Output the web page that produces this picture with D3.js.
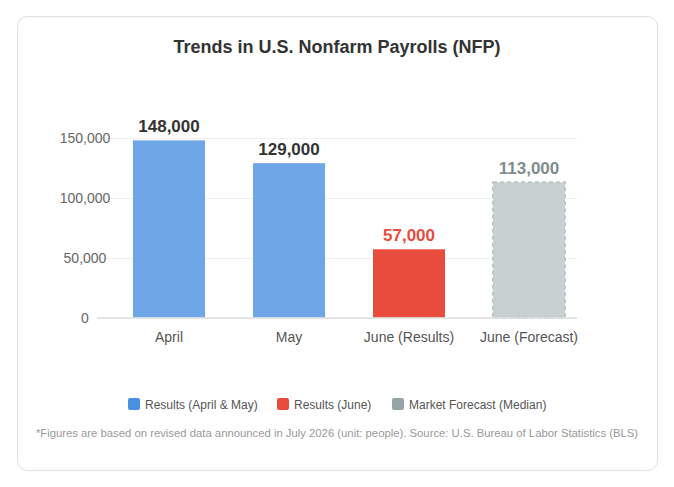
<!DOCTYPE html>
<html>
<head>
<meta charset="utf-8">
<script src="https://cdn.jsdelivr.net/npm/d3@7"></script>
<style>
  body { margin: 0; background: #fff; font-family: "Liberation Sans", Arial, sans-serif; }
</style>
</head>
<body>
<div id="chart"></div>
<script>
const categories = ["April", "May", "June (Results)", "June (Forecast)"];
const values = [148000, 129000, 57000, 113000];
const kinds = ["result", "result", "june", "forecast"];
const yTicks = [0, 50000, 100000, 150000];
const legendLabels = ["Results (April & May)", "Results (June)", "Market Forecast (Median)"];

const w = 674, h = 487;
const fill = { result: "#6ea6e8", june: "#e74c3c", forecast: "#c9d0d2" };
const labelColor = { result: "#333", june: "#e74c3c", forecast: "#7f8c8d" };
const legendColors = ["#4a90e2", "#e74c3c", "#95a5a6"];

const svg = d3.select("#chart").append("svg")
  .attr("width", w).attr("height", h);

svg.append("rect")
  .attr("x", 17.5).attr("y", 16.5)
  .attr("width", 640).attr("height", 454)
  .attr("rx", 10)
  .attr("fill", "#fff")
  .attr("stroke", "#e0e0e0");

svg.append("text")
  .attr("x", 337).attr("y", 53)
  .attr("text-anchor", "middle")
  .attr("font-size", 18).attr("font-weight", "bold")
  .attr("fill", "#333")
  .text("Trends in U.S. Nonfarm Payrolls (NFP)");

const xScale = d3.scaleBand().domain(categories).range([109, 589]).paddingInner(0.4).paddingOuter(0.2);
const yScale = d3.scaleLinear().domain([0, 150000]).range([317.5, 138]);

// grid
svg.append("g").selectAll("line")
  .data(yTicks.slice(1))
  .enter().append("line")
  .attr("x1", 97).attr("x2", 577)
  .attr("y1", d => Math.round(yScale(d)) + 0.5)
  .attr("y2", d => Math.round(yScale(d)) + 0.5)
  .attr("stroke", "#f0f0f0");

svg.append("g").selectAll("text")
  .data(yTicks)
  .enter().append("text")
  .attr("x", 85)
  .attr("y", d => yScale(d) + 5)
  .attr("text-anchor", "middle")
  .attr("font-size", 14).attr("fill", "#666")
  .text(d => d3.format(",")(d));

// bars
const idx = d3.range(categories.length);
svg.append("g").selectAll("rect")
  .data(idx)
  .enter().append("rect")
  .attr("x", i => xScale(categories[i]))
  .attr("y", i => yScale(values[i]))
  .attr("width", xScale.bandwidth())
  .attr("height", i => yScale(0) - yScale(values[i]))
  .attr("fill", i => fill[kinds[i]])
  .attr("stroke", i => kinds[i] === "forecast" ? "#bfc6c9" : "none")
  .attr("stroke-width", 2)
  .attr("stroke-dasharray", "4,3");

svg.append("line")
  .attr("x1", 97).attr("x2", 577)
  .attr("y1", 318).attr("y2", 318)
  .attr("stroke", "#ddd").attr("stroke-width", 1.5);

svg.append("g").selectAll("text")
  .data(idx)
  .enter().append("text")
  .attr("x", i => xScale(categories[i]) + xScale.bandwidth() / 2)
  .attr("y", i => yScale(values[i]) - 8)
  .attr("text-anchor", "middle")
  .attr("font-size", 17).attr("font-weight", "bold")
  .attr("fill", i => labelColor[kinds[i]])
  .text(i => d3.format(",")(values[i]));

// x labels
svg.append("g").selectAll("text")
  .data(categories)
  .enter().append("text")
  .attr("x", d => xScale(d) + xScale.bandwidth() / 2)
  .attr("y", 342)
  .attr("text-anchor", "middle")
  .attr("font-size", 14).attr("fill", "#555")
  .text(d => d);

// legend
const legendX = [128, 277, 392];
const lg = svg.append("g").selectAll("g")
  .data(legendLabels)
  .enter().append("g")
  .attr("transform", (d, i) => "translate(" + legendX[i] + ",398)");
lg.append("rect")
  .attr("width", 12).attr("height", 12).attr("rx", 2)
  .attr("fill", (d, i) => legendColors[i]);
lg.append("text")
  .attr("x", 17).attr("y", 10.5)
  .attr("font-size", 12).attr("fill", "#555")
  .text(d => d);

svg.append("text")
  .attr("x", 337).attr("y", 437)
  .attr("text-anchor", "middle")
  .attr("font-size", 11.3).attr("fill", "#999")
  .text("*Figures are based on revised data announced in July 2026 (unit: people). Source: U.S. Bureau of Labor Statistics (BLS)");
</script>
</body>
</html>
